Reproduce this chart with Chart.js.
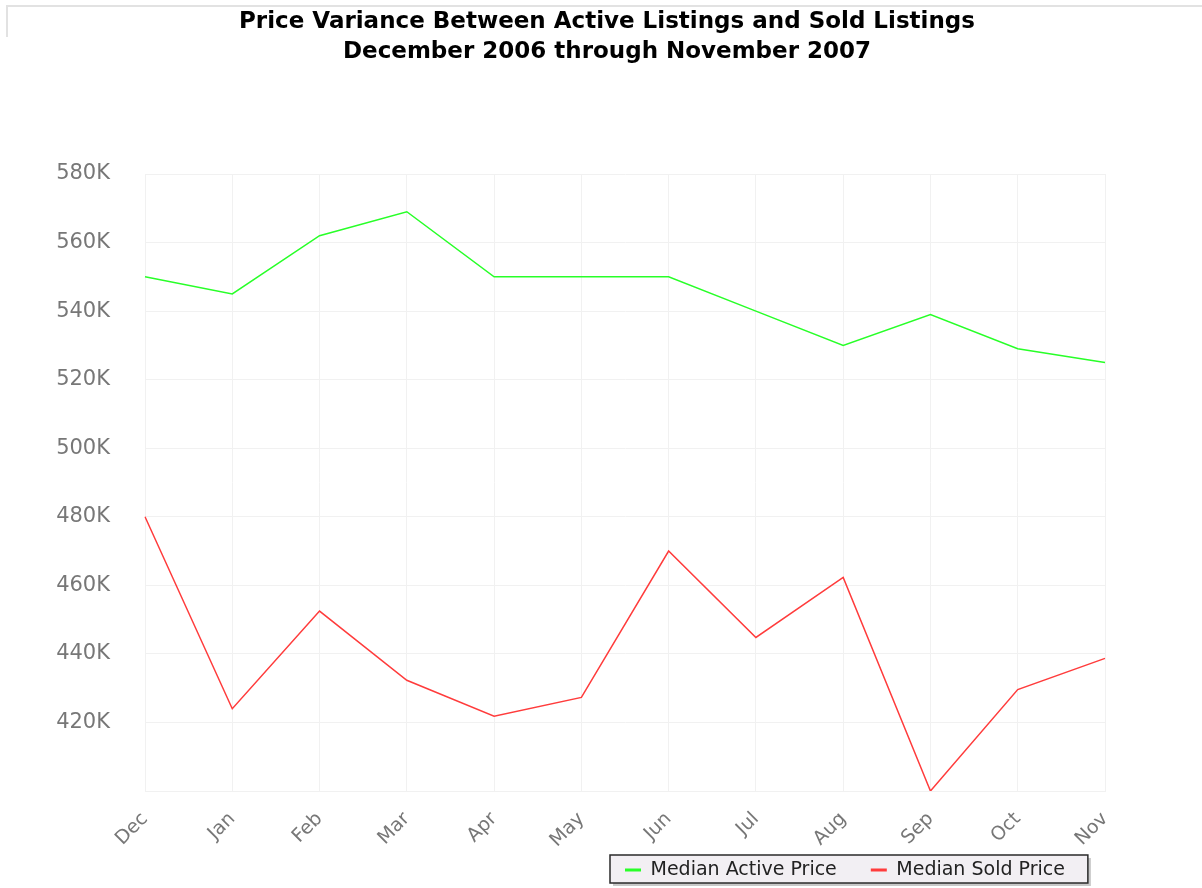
<!DOCTYPE html>
<html lang="en">
<head>
  <meta charset="UTF-8">
  <title>Price Variance Between Active Listings and Sold Listings</title>
  <script src="https://cdn.jsdelivr.net/npm/chart.js"></script>
  <style>
    html, body { margin: 0; padding: 0; background: #fff; }
    #wrap { position: relative; width: 1202px; height: 888px; }
    #frame { position: absolute; left: 6px; top: 5px; width: 1200px; height: 30px; border-top: 2px solid #e2e2e2; border-left: 2px solid #e2e2e2; }
    canvas { position: absolute; left: 0; top: 0; }
  </style>
</head>
<body>
  <div id="wrap">
    <canvas id="chart" width="1202" height="888"></canvas>
    <div id="frame"></div>
  </div>

  <script>
    const months = ['Dec','Jan','Feb','Mar','Apr','May','Jun','Jul','Aug','Sep','Oct','Nov'];
    const activePrice = [550000,545000,562000,569000,550000,550000,550000,540000,530000,539000,529000,525000];
    const soldPrice   = [480000,424000,452500,432300,421800,427300,470000,444800,462300,400000,429600,438700];
    const titleLines = ['Price Variance Between Active Listings and Sold Listings','December 2006 through November 2007'];

    const fontFam = "'DejaVu Sans', Verdana, sans-serif";
    const legPad = 34;

    // move title/legend where the original has them and draw the framed legend box
    const legendBox = {
      id: 'legendBox',
      afterLayout(chart){
        chart.titleBlock.left = 0;
        chart.titleBlock.right = 1214;
        chart.legend.left = 625 - legPad;
        chart.legend.top = 870 - 9.5 - legPad;
      },
      beforeDraw(chart){
        const lg = chart.legend, ctx = chart.ctx;
        const x0 = 610, y0 = 855, h = 28;
        const w = (625 + lg.lineWidths[0] - legPad + 23) - x0;
        ctx.save();
        ctx.fillStyle = '#c8c8c8';
        ctx.fillRect(x0 + 3, y0 + 3, w, h);
        ctx.fillStyle = '#f2eff3';
        ctx.fillRect(x0, y0, w, h);
        ctx.strokeStyle = '#2a2a2a';
        ctx.lineWidth = 1.5;
        ctx.strokeRect(x0, y0, w, h);
        ctx.restore();
      }
    };

    new Chart(document.getElementById('chart'), {
      type: 'line',
      data: {
        labels: months,
        datasets: [
          {label:'Median Active Price', data: activePrice, borderColor:'rgb(40,255,40)', backgroundColor:'rgb(40,255,40)', borderWidth:1.5, pointRadius:0, tension:0, fill:false},
          {label:'Median Sold Price', data: soldPrice, borderColor:'rgb(255,60,60)', backgroundColor:'rgb(255,60,60)', borderWidth:1.5, pointRadius:0, tension:0, fill:false}
        ]
      },
      options: {
        responsive: false,
        animation: false,
        layout: { padding: { left: 0, right: 97, top: 0, bottom: 0 } },
        plugins: {
          title: {
            display: true, text: titleLines, color: '#000',
            font: { family: fontFam, size: 23, weight: 'bold', lineHeight: 30 / 23 },
            padding: { top: 7, bottom: 107 }
          },
          legend: {
            position: 'bottom', align: 'start', maxHeight: 1,
            labels: {
              color: '#222', font: { family: fontFam, size: 19 }, padding: legPad,
              usePointStyle: true, pointStyle: 'line', pointStyleWidth: 16,
              generateLabels: c => Chart.defaults.plugins.legend.labels.generateLabels(c).map(l => ({...l, lineWidth: 3}))
            }
          },
          tooltip: { enabled: false }
        },
        scales: {
          x: {
            grid: { color: '#f1f1f1', drawTicks: false },
            border: { color: '#f1f1f1' },
            afterFit: s => { s.height = 96; },
            ticks: { color: '#777', font: { family: fontFam, size: 19 }, minRotation: 45, maxRotation: 45, padding: 17 }
          },
          y: {
            min: 400000, max: 580000,
            grid: { color: '#f1f1f1', drawTicks: false },
            border: { color: '#f1f1f1' },
            afterFit: s => { s.width = 145; },
            ticks: {
              stepSize: 20000, color: '#777', padding: 35,
              font: { family: fontFam, size: 21 },
              callback: v => v === 400000 ? '' : (v / 1000) + 'K'
            }
          }
        }
      },
      plugins: [legendBox]
    });
  </script>
</body>
</html>
